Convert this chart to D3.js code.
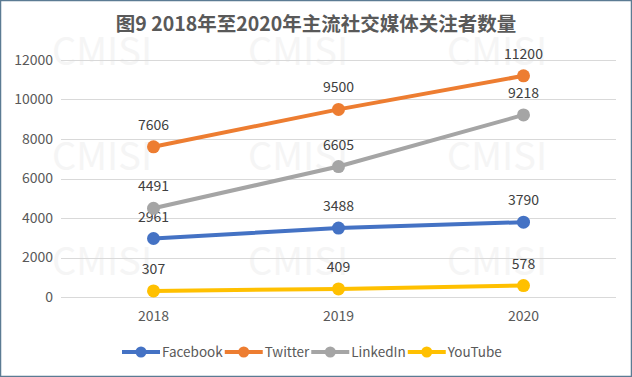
<!DOCTYPE html>
<html>
<head>
<meta charset="utf-8">
<script src="https://cdn.jsdelivr.net/npm/d3@7"></script>
<style>
  body { margin: 0; background: #fff; }
  svg text { font-family: "Microsoft YaHei", "Noto Sans CJK SC", "DejaVu Sans", sans-serif; }
</style>
</head>
<body>
<svg id="chart" width="632" height="377"></svg>
<script>
const years = ["2018", "2019", "2020"];
const seriesNames = ["Facebook", "Twitter", "LinkedIn", "YouTube"];
const facebook = [2961, 3488, 3790];
const twitter = [7606, 9500, 11200];
const linkedin = [4491, 6605, 9218];
const youtube = [307, 409, 578];
const yTicks = [0, 2000, 4000, 6000, 8000, 10000, 12000];
const colors = ["#4472C4", "#ED7D31", "#A5A5A5", "#FFC000"];

const series = [facebook, twitter, linkedin, youtube].map((values, i) => ({
  name: seriesNames[i], color: colors[i], values
}));

const svg = d3.select("#chart");
const W = 632, H = 377;
const margin = { top: 60, right: 16, bottom: 80, left: 61 };

svg.append("rect")
  .attr("x", 0.5).attr("y", 0.5)
  .attr("width", W - 1).attr("height", H - 1)
  .attr("fill", "#fff")
  .attr("stroke", "#5b7b93").attr("stroke-width", 1.5);

// faint watermark grid
const wm = svg.append("g").attr("fill", "#f5f5f5").style("font-size", "38px");
[52, 248, 447].forEach(wx => {
  [65, 170, 275].forEach(wy => {
    wm.append("text").attr("x", wx).attr("y", wy).text("CMISI");
  });
});

const x = d3.scaleBand().domain(years).range([margin.left, W - margin.right]);
const y = d3.scaleLinear().domain([0, 12000]).range([297, 60]);

svg.append("g")
  .selectAll("line")
  .data(yTicks)
  .join("line")
  .attr("x1", margin.left).attr("x2", W - margin.right)
  .attr("y1", d => Math.round(y(d)) + 0.5).attr("y2", d => Math.round(y(d)) + 0.5)
  .attr("stroke", "#d9d9d9").attr("stroke-width", 1);

svg.append("g")
  .selectAll("text")
  .data(yTicks)
  .join("text")
  .attr("x", 53).attr("y", d => y(d))
  .attr("dy", "0.35em")
  .attr("text-anchor", "end")
  .attr("fill", "#595959")
  .style("font-size", "14px")
  .text(d => d);

svg.append("g")
  .selectAll("text")
  .data(years)
  .join("text")
  .attr("x", d => x(d) + x.bandwidth() / 2).attr("y", 321)
  .attr("text-anchor", "middle")
  .attr("fill", "#595959")
  .style("font-size", "14px")
  .text(d => d);

svg.append("text")
  .attr("x", W / 2).attr("y", 31)
  .attr("text-anchor", "middle")
  .attr("fill", "#595959")
  .style("font-size", "19.5px")
  .style("font-weight", "bold")
  .text("图9 2018年至2020年主流社交媒体关注者数量");

const line = d3.line()
  .x((d, i) => x(years[i]) + x.bandwidth() / 2)
  .y(d => y(d));

series.forEach(s => {
  const g = svg.append("g");
  g.append("path")
    .attr("d", line(s.values))
    .attr("fill", "none")
    .attr("stroke", s.color)
    .attr("stroke-width", 4)
    .attr("stroke-linecap", "round");
  g.selectAll("circle")
    .data(s.values)
    .join("circle")
    .attr("cx", (d, i) => x(years[i]) + x.bandwidth() / 2)
    .attr("cy", d => y(d))
    .attr("r", 6.5)
    .attr("fill", s.color);
  g.selectAll("text")
    .data(s.values)
    .join("text")
    .attr("x", (d, i) => x(years[i]) + x.bandwidth() / 2)
    .attr("y", d => y(d) - 17)
    .attr("text-anchor", "middle")
    .attr("fill", "#404040")
    .style("font-size", "14px")
    .text(d => d);
});

// legend
const legend = svg.append("g").attr("transform", "translate(0, 352)");
let lx = 122;
series.forEach(s => {
  const item = legend.append("g").attr("transform", `translate(${lx}, 0)`);
  item.append("line")
    .attr("x1", 0).attr("x2", 38)
    .attr("stroke", s.color).attr("stroke-width", 4);
  item.append("circle").attr("cx", 19).attr("r", 5.5).attr("fill", s.color);
  const t = item.append("text")
    .attr("x", 40).attr("dy", "0.35em")
    .attr("fill", "#595959")
    .style("font-size", "13.5px")
    .text(s.name);
  lx += 40 + t.node().getComputedTextLength() + 2;
});
</script>
</body>
</html>
